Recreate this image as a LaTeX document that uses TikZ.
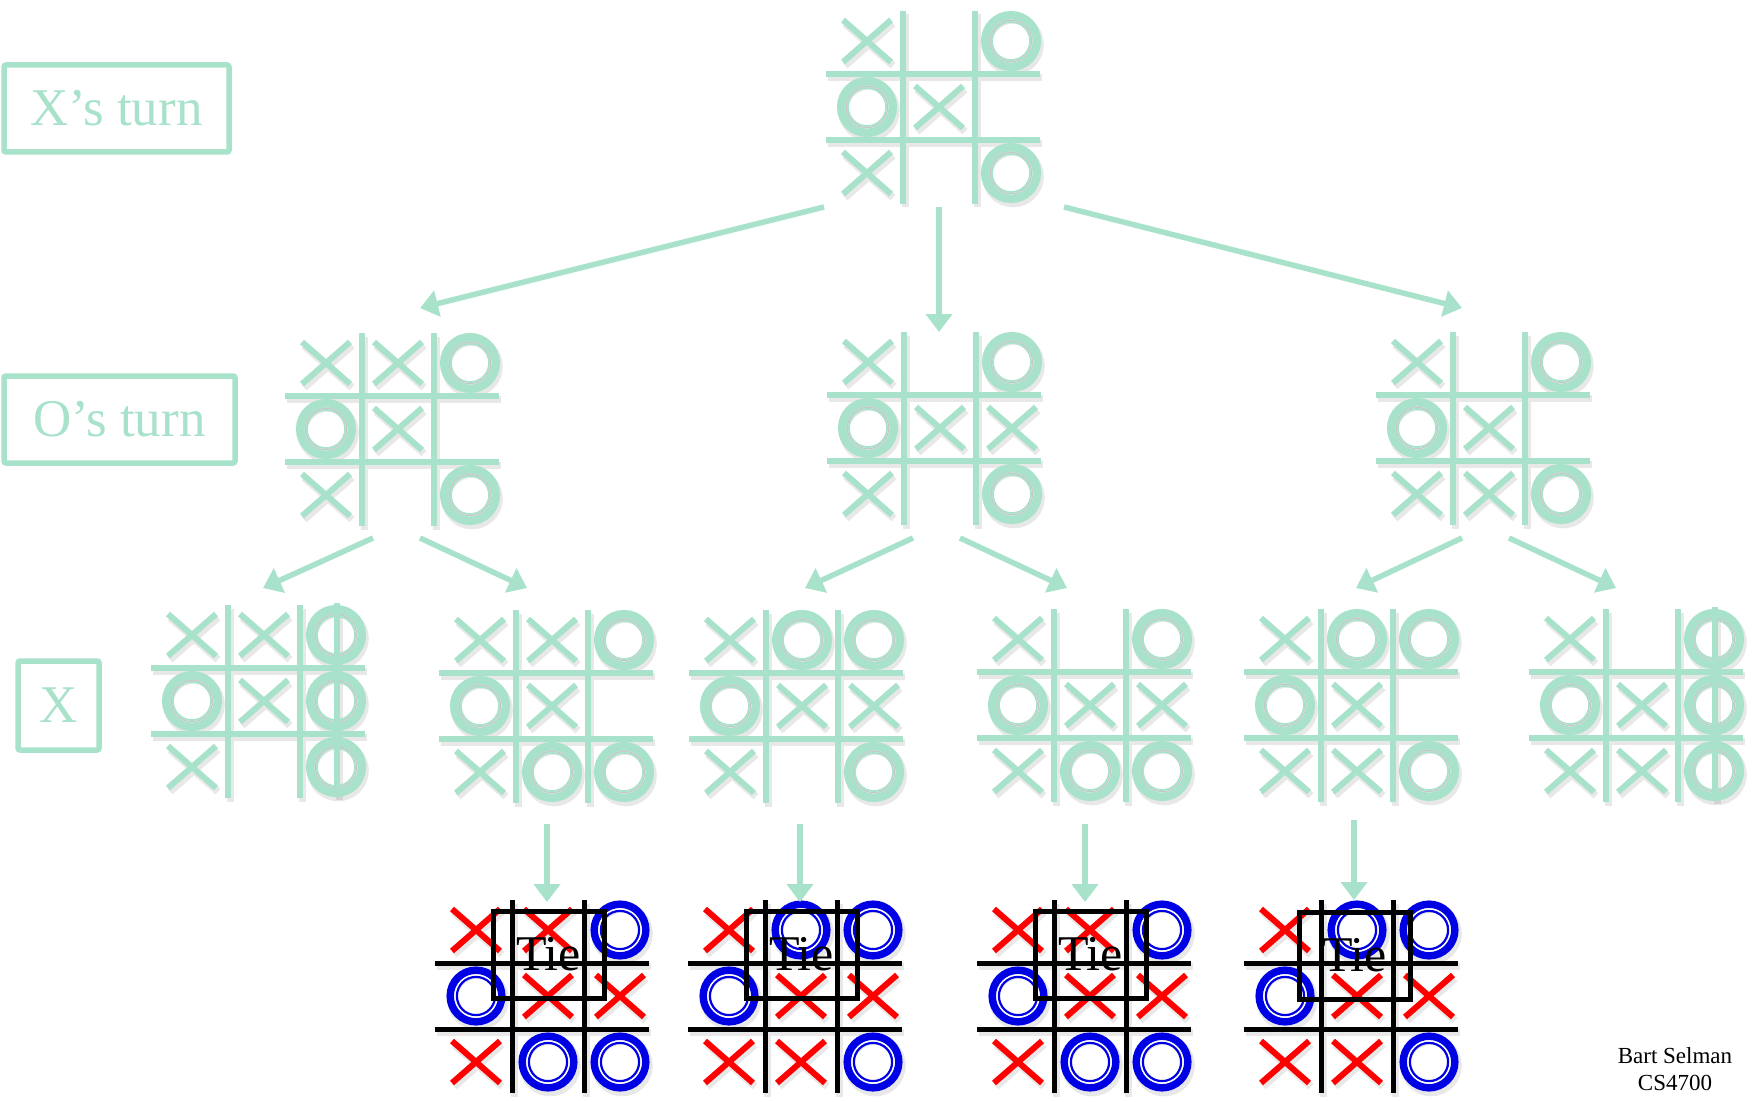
\documentclass[tikz,border=0pt]{standalone}
\usepackage{fontspec}
\setmainfont{Liberation Serif}
\usetikzlibrary{arrows.meta}
\definecolor{mint}{RGB}{168,226,202}
\definecolor{xred}{RGB}{255,0,0}
\definecolor{oblue}{RGB}{0,0,228}
\def\cw{72}\def\ch{66}
\tikzset{
  gridln/.style={line width=5.5pt, draw=mint},
  xstroke/.style={line width=6pt, draw=mint},
  oring/.style={line width=8.5pt, draw=mint},
  ogap/.style={line width=1.2pt, draw=black!22},
  othin/.style={line width=1.8pt, draw=mint},
  winln/.style={line width=5.5pt, draw=mint},
  shadowpass/.style={
    gridln/.style={line width=7pt, draw=black, opacity=0.09},
    xstroke/.style={line width=7.5pt, draw=black, opacity=0.09},
    oring/.style={line width=10pt, draw=black, opacity=0.09},
    ogap/.style={draw=none},
    othin/.style={draw=none},
    winln/.style={line width=7pt, draw=black, opacity=0.09}},
  bwtheme/.style={
    gridln/.style={line width=5pt, draw=black},
    xstroke/.style={line width=6pt, draw=xred},
    oring/.style={line width=7.5pt, draw=oblue},
    ogap/.style={line width=2pt, draw=white},
    othin/.style={line width=2.2pt, draw=oblue}},
  boardbox/.style={minimum width=214pt, minimum height=193pt, inner sep=0pt},
  lab/.style={draw=mint, line width=5.5pt, rounded corners=2pt, text=mint,
    font=\fontsize{53pt}{60pt}\selectfont, inner sep=0pt},
  arr/.style={draw=mint, line width=5.5pt, -{Triangle[length=18pt, width=26pt]}},
  tiebox/.style={draw=black, line width=5pt, minimum width=111pt, minimum height=87pt,
    inner sep=0pt, font=\fontsize{50pt}{56pt}\selectfont, text=black}
}
\newcommand{\PX}[2]{\draw[xstroke] ({#1*\cw-24},{#2*\ch-21}) -- ({#1*\cw+24},{#2*\ch+21})
  ({#1*\cw-24},{#2*\ch+21}) -- ({#1*\cw+24},{#2*\ch-21});}
\newcommand{\PO}[2]{\draw[oring] ({#1*\cw},{#2*\ch}) circle[radius=25.8];
  \draw[ogap] ({#1*\cw},{#2*\ch}) circle[radius=20.7];
  \draw[othin] ({#1*\cw},{#2*\ch}) circle[radius=19.1];}
\newcommand{\PG}{\draw[gridln] (-113,-33) -- (101,-33) (-113,33) -- (101,33)
  (-36,-96) -- (-36,97) (36,-96) -- (36,97);}
\newcommand{\PW}{\draw[winln] (73,-98) -- (73,95);}
\newcommand{\Board}[4]{%
  \node[boardbox] (#1) at #2 {};
  \begin{scope}[shift={#2}, #4]
    \begin{scope}[shift={(2,3.5)}, shadowpass] \PG #3 \end{scope}
    \PG #3
  \end{scope}}
\begin{document}
\begin{tikzpicture}[x=1pt, y=-1pt]
\useasboundingbox (0,0) rectangle (1757,1102);
\fill[white] (0,0) rectangle (1757,1102);

% labels
\node[lab, minimum width=225pt, minimum height=87pt] (lx) at (116.5,108.5) {X’s turn};
\node[lab, minimum width=231pt, minimum height=87pt] (lo) at (119.5,419.5) {O’s turn};
\node[lab, minimum width=81pt, minimum height=89pt] (lx2) at (58.5,705.5) {X};

% level 0
\Board{b0}{(939,107)}{\PX{-1}{-1}\PO{1}{-1}\PO{-1}{0}\PX{0}{0}\PX{-1}{1}\PO{1}{1}}{}

% level 1
\Board{b1}{(398,429)}{\PX{-1}{-1}\PX{0}{-1}\PO{1}{-1}\PO{-1}{0}\PX{0}{0}\PX{-1}{1}\PO{1}{1}}{}
\Board{b2}{(940,428)}{\PX{-1}{-1}\PO{1}{-1}\PO{-1}{0}\PX{0}{0}\PX{1}{0}\PX{-1}{1}\PO{1}{1}}{}
\Board{b3}{(1489,428)}{\PX{-1}{-1}\PO{1}{-1}\PO{-1}{0}\PX{0}{0}\PX{-1}{1}\PX{0}{1}\PO{1}{1}}{}

% level 2
\Board{c1}{(264,701)}{\PX{-1}{-1}\PX{0}{-1}\PO{1}{-1}\PO{-1}{0}\PX{0}{0}\PO{1}{0}\PX{-1}{1}\PO{1}{1}\PW}{}
\Board{c2}{(552,706)}{\PX{-1}{-1}\PX{0}{-1}\PO{1}{-1}\PO{-1}{0}\PX{0}{0}\PX{-1}{1}\PO{0}{1}\PO{1}{1}}{}
\Board{c3}{(802,706)}{\PX{-1}{-1}\PO{0}{-1}\PO{1}{-1}\PO{-1}{0}\PX{0}{0}\PX{1}{0}\PX{-1}{1}\PO{1}{1}}{}
\Board{c4}{(1090,705)}{\PX{-1}{-1}\PO{1}{-1}\PO{-1}{0}\PX{0}{0}\PX{1}{0}\PX{-1}{1}\PO{0}{1}\PO{1}{1}}{}
\Board{c5}{(1357,705)}{\PX{-1}{-1}\PO{0}{-1}\PO{1}{-1}\PO{-1}{0}\PX{0}{0}\PX{-1}{1}\PX{0}{1}\PO{1}{1}}{}
\Board{c6}{(1642,705)}{\PX{-1}{-1}\PO{1}{-1}\PO{-1}{0}\PX{0}{0}\PO{1}{0}\PX{-1}{1}\PX{0}{1}\PO{1}{1}\PW}{}

% level 3 (final, ties)
\Board{d1}{(548,996)}{\PX{-1}{-1}\PX{0}{-1}\PO{1}{-1}\PO{-1}{0}\PX{0}{0}\PX{1}{0}\PX{-1}{1}\PO{0}{1}\PO{1}{1}}{bwtheme}
\Board{d2}{(801,996)}{\PX{-1}{-1}\PO{0}{-1}\PO{1}{-1}\PO{-1}{0}\PX{0}{0}\PX{1}{0}\PX{-1}{1}\PX{0}{1}\PO{1}{1}}{bwtheme}
\Board{d3}{(1090,996)}{\PX{-1}{-1}\PX{0}{-1}\PO{1}{-1}\PO{-1}{0}\PX{0}{0}\PX{1}{0}\PX{-1}{1}\PO{0}{1}\PO{1}{1}}{bwtheme}
\Board{d4}{(1357,996)}{\PX{-1}{-1}\PO{0}{-1}\PO{1}{-1}\PO{-1}{0}\PX{0}{0}\PX{1}{0}\PX{-1}{1}\PX{0}{1}\PO{1}{1}}{bwtheme}

\node[tiebox] (t1) at (548.5,954.5) {Tie};
\node[tiebox] (t2) at (801.5,954.5) {Tie};
\node[tiebox] (t3) at (1090.5,954.5) {Tie};
\node[tiebox] (t4) at (1354.5,955.5) {Tie};

% connector end points
\coordinate (s0l) at (824,207);  \coordinate (e0l) at (420,308);
\coordinate (s0m) at (939,207);  \coordinate (e0m) at (939,332);
\coordinate (s0r) at (1064,207); \coordinate (e0r) at (1462,308);
\coordinate (s1l) at (373,538);  \coordinate (e1l) at (263,588);
\coordinate (s1r) at (420,538);  \coordinate (e1r) at (527,588);
\coordinate (s2l) at (913,538);  \coordinate (e2l) at (805,588);
\coordinate (s2r) at (960,538);  \coordinate (e2r) at (1067,588);
\coordinate (s3l) at (1462,538); \coordinate (e3l) at (1356,588);
\coordinate (s3r) at (1509,538); \coordinate (e3r) at (1616,588);
\coordinate (sc2) at (547,824);  \coordinate (ed1) at (547,902);
\coordinate (sc3) at (800,824);  \coordinate (ed2) at (800,902);
\coordinate (sc4) at (1085,824); \coordinate (ed3) at (1085,902);
\coordinate (sc5) at (1354,820); \coordinate (ed4) at (1354,900);

\foreach \a/\b in {s0l/e0l, s0m/e0m, s0r/e0r, s1l/e1l, s1r/e1r, s2l/e2l, s2r/e2r,
  s3l/e3l, s3r/e3r, sc2/ed1, sc3/ed2, sc4/ed3, sc5/ed4}
  \draw[arr] (\a) -- (\b);

\node[align=center, font=\fontsize{23pt}{27pt}\selectfont, inner sep=0pt] (cred) at (1675,1069) {Bart Selman\\CS4700};
\end{tikzpicture}
\end{document}
